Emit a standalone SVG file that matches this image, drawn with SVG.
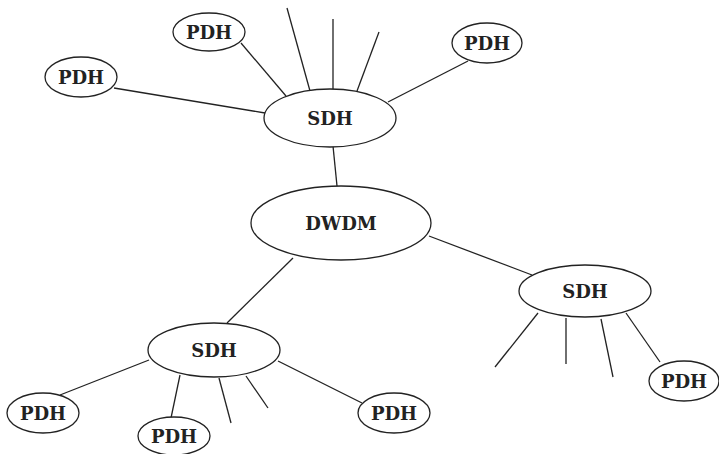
<svg xmlns="http://www.w3.org/2000/svg" width="719" height="454" viewBox="0 0 719 454">
<style>
.n ellipse{fill:#fff;stroke:#222;stroke-width:1.3}
.n text{font-family:"DejaVu Serif","Liberation Serif",serif;font-weight:bold;font-size:18px;fill:#222;text-anchor:middle}
.c line{stroke:#222;stroke-width:1.3}
</style>
<rect width="719" height="454" fill="#fff"/>
<g class="c" id="connectors">
<line x1="114" y1="88" x2="265" y2="113"/>
<line x1="241" y1="43" x2="286" y2="96"/>
<line x1="287" y1="8" x2="310" y2="91"/>
<line x1="333" y1="19" x2="333" y2="90"/>
<line x1="379" y1="32" x2="357" y2="91"/>
<line x1="388" y1="102" x2="468" y2="61"/>
<line x1="333" y1="146" x2="337" y2="186"/>
<line x1="293" y1="258" x2="227" y2="323"/>
<line x1="429" y1="236" x2="532" y2="275"/>
<line x1="149" y1="360" x2="60" y2="395"/>
<line x1="180" y1="375" x2="171" y2="418"/>
<line x1="219" y1="378" x2="231" y2="423"/>
<line x1="246" y1="376" x2="268" y2="408"/>
<line x1="278" y1="361" x2="362" y2="403"/>
<line x1="538" y1="313" x2="495" y2="367"/>
<line x1="566" y1="318" x2="566" y2="364"/>
<line x1="601" y1="319" x2="613" y2="377"/>
<line x1="626" y1="313" x2="660" y2="362"/>
</g>
<g class="n" id="sdh-top"><ellipse cx="330" cy="118" rx="66" ry="29"/><text x="330" y="125">SDH</text></g>
<g class="n" id="pdh-top-left"><ellipse cx="209" cy="32" rx="36" ry="19"/><text x="209" y="39">PDH</text></g>
<g class="n" id="pdh-top-right"><ellipse cx="487" cy="43" rx="35" ry="20"/><text x="487" y="50">PDH</text></g>
<g class="n" id="pdh-left"><ellipse cx="81" cy="77" rx="36" ry="20"/><text x="81" y="84">PDH</text></g>
<g class="n" id="dwdm"><ellipse cx="341" cy="223" rx="90" ry="37"/><text x="341" y="230">DWDM</text></g>
<g class="n" id="sdh-bottom"><ellipse cx="214" cy="350" rx="66" ry="27"/><text x="214" y="357">SDH</text></g>
<g class="n" id="pdh-bottom-left"><ellipse cx="43" cy="413" rx="36" ry="20"/><text x="43" y="420">PDH</text></g>
<g class="n" id="pdh-bottom-mid"><ellipse cx="174" cy="436" rx="36" ry="19"/><text x="174" y="443">PDH</text></g>
<g class="n" id="pdh-bottom-right"><ellipse cx="394" cy="413" rx="36" ry="20"/><text x="394" y="420">PDH</text></g>
<g class="n" id="sdh-right"><ellipse cx="585" cy="291" rx="66" ry="26"/><text x="585" y="298">SDH</text></g>
<g class="n" id="pdh-right"><ellipse cx="684" cy="381" rx="35" ry="20"/><text x="684" y="388">PDH</text></g>
</svg>
